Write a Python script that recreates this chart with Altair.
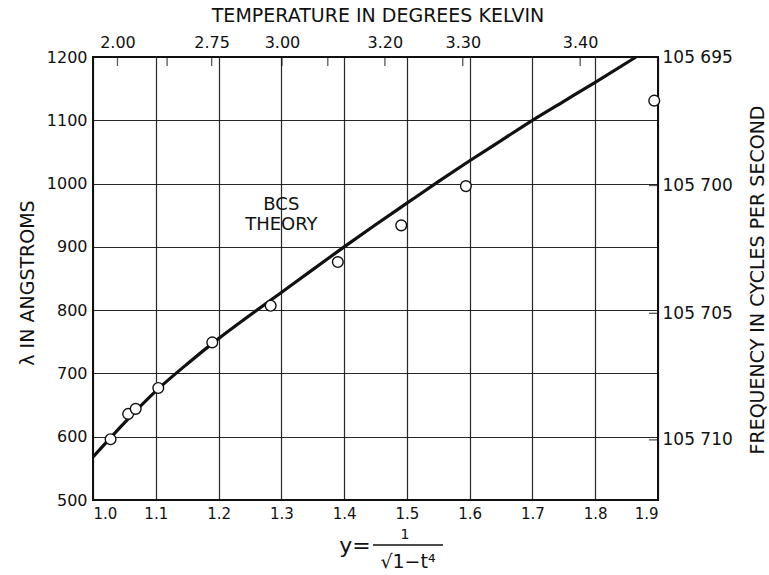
import altair as alt
import pandas as pd

# ---- data ----
curve_x = [1.00, 1.05, 1.10, 1.15, 1.20, 1.25, 1.30, 1.35, 1.40, 1.45, 1.50,
           1.55, 1.60, 1.65, 1.70, 1.75, 1.80, 1.865]
curve_lam = [568, 622, 672, 715, 755, 792, 828, 864, 900, 935, 969,
             1003, 1036, 1068, 1100, 1130, 1160, 1200]

pts_x = [1.028, 1.056, 1.068, 1.104, 1.190, 1.283, 1.390, 1.491, 1.594, 1.894]
pts_lam = [596, 636, 644, 677, 749, 807, 876, 934, 996, 1131]

x_ticks = [1.0, 1.1, 1.2, 1.3, 1.4, 1.5, 1.6, 1.7, 1.8, 1.9]
lam_ticks = [500, 600, 700, 800, 900, 1000, 1100, 1200]

temp_labels = ["2.00", "2.75", "3.00", "3.20", "3.30", "3.40"]
temp_pos = [1.039, 1.189, 1.301, 1.465, 1.589, 1.776]
temp_minor = [1.118, 1.374]

freq_labels = ["105 695", "105 700", "105 705", "105 710"]
freq_pos = [1200, 997, 795, 595]

note_text = ["BCS\nTHEORY"]
note_x = [1.30]
note_lam = [966]

# ---- layout / style ----
FONT = "DejaVu Sans"
INK = "#111111"
W, H = 565, 443
XD = [1.0, 1.9]
YD = [500, 1200]
TITLE_SIZE = 19


def xs():
    return alt.Scale(domain=XD, nice=False, zero=False)


def ys():
    return alt.Scale(domain=YD, nice=False, zero=False)


def map_expr(vals, labels):
    expr = "''"
    for v, l in reversed(list(zip(vals, labels))):
        expr = f"abs(datum.value - {v}) < 1e-6 ? '{l}' : ({expr})"
    return expr


curve_df = pd.DataFrame({"x": curve_x, "lam": curve_lam})
pts_df = pd.DataFrame({"x": pts_x, "lam": pts_lam})
temp_df = pd.DataFrame({"pos": temp_pos + temp_minor})
temp_lab_df = pd.DataFrame({"pos": temp_pos, "label": temp_labels})
freq_df = pd.DataFrame({"lam": freq_pos, "label": freq_labels})
note_df = pd.DataFrame({"x": note_x, "lam": note_lam, "t": note_text})

bottom_axis = alt.Axis(values=x_ticks, format=".1f", grid=True, gridColor=INK,
                       gridWidth=1.2, gridOpacity=0.9, ticks=False, domain=False,
                       labelFont=FONT, labelFontSize=15, labelColor=INK,
                       labelPadding=6, title=None)
left_axis = alt.Axis(values=lam_ticks, format="d", grid=True, gridColor=INK,
                     gridWidth=1.2, gridOpacity=0.9, ticks=False, domain=False,
                     labelFont=FONT, labelFontSize=16, labelColor=INK,
                     labelPadding=6, title="λ IN ANGSTROMS", titleFont=FONT,
                     titleFontSize=TITLE_SIZE, titleFontWeight="normal",
                     titleColor=INK, titleAngle=270, titleX=-66,
                     titleY=H / 2 + 4,
                     titleAlign="center", titleBaseline="middle")

curve = alt.Chart(curve_df).mark_line(color=INK, strokeWidth=3.2,
                                      interpolate="monotone").encode(
    x=alt.X("x:Q", scale=xs(), axis=bottom_axis),
    y=alt.Y("lam:Q", scale=ys(), axis=left_axis),
)

points = alt.Chart(pts_df).mark_point(shape="circle", filled=True, fill="white",
                                      stroke=INK, strokeWidth=1.4, size=115,
                                      opacity=1).encode(
    x=alt.X("x:Q", scale=xs(), axis=None),
    y=alt.Y("lam:Q", scale=ys(), axis=None),
)

top_ticks = alt.Chart(temp_df).mark_tick(orient="vertical", size=9, thickness=1.3,
                                         color=INK, yOffset=4.5).encode(
    x=alt.X("pos:Q", scale=xs(), axis=None),
    y=alt.Y(datum=YD[1], scale=ys(), axis=None),
)

top_axis = alt.Chart(temp_lab_df).mark_point(opacity=0).encode(
    x=alt.X("pos:Q", scale=xs(),
            axis=alt.Axis(orient="top", values=temp_pos,
                          labelExpr=map_expr(temp_pos, temp_labels),
                          ticks=False, domain=False, grid=False,
                          labelFont=FONT, labelFontSize=16, labelColor=INK,
                          labelPadding=7,
                          title="TEMPERATURE IN DEGREES KELVIN",
                          titleFont=FONT, titleFontSize=TITLE_SIZE,
                          titleFontWeight="normal", titleColor=INK,
                          titleX=W / 2 + 2, titleY=-42,
                          titleAlign="center", titleBaseline="middle")),
    y=alt.Y(datum=YD[1], scale=ys(), axis=None),
)

right_ticks = alt.Chart(freq_df).mark_tick(orient="horizontal", size=9,
                                           thickness=1.3, color=INK,
                                           xOffset=-4.5).encode(
    x=alt.X(datum=XD[1], scale=xs(), axis=None),
    y=alt.Y("lam:Q", scale=ys(), axis=None),
)

right_axis = alt.Chart(freq_df).mark_point(opacity=0).encode(
    x=alt.X(datum=XD[1], scale=xs(), axis=None),
    y=alt.Y("lam:Q", scale=ys(),
            axis=alt.Axis(orient="right", values=freq_pos,
                          labelExpr=map_expr(freq_pos, freq_labels),
                          ticks=False, domain=False, grid=False,
                          labelFont=FONT, labelFontSize=17, labelColor=INK,
                          labelPadding=4,
                          title="FREQUENCY IN CYCLES PER SECOND",
                          titleFont=FONT, titleFontSize=TITLE_SIZE,
                          titleFontWeight="normal", titleColor=INK,
                          titleAngle=270, titleX=99, titleY=H / 2 + 1,
                          titleAlign="center", titleBaseline="middle")),
)

note = alt.Chart(note_df).mark_text(lineBreak="\n", font=FONT, fontSize=18,
                                    lineHeight=20, color=INK, align="center",
                                    baseline="middle").encode(
    x=alt.X("x:Q", scale=xs(), axis=None),
    y=alt.Y("lam:Q", scale=ys(), axis=None),
    text="t:N",
)

# ---- x-axis title: y = 1 / sqrt(1 - t^4) ----
f_y = alt.Chart(note_df).mark_text(font=FONT, fontSize=22, color=INK,
                                   align="center", baseline="middle").encode(
    x=alt.value(262), y=alt.value(489), text=alt.value("y="))
f_num = alt.Chart(note_df).mark_text(font=FONT, fontSize=14, color=INK,
                                     align="center", baseline="middle").encode(
    x=alt.value(312), y=alt.value(478), text=alt.value("1"))
f_bar = alt.Chart(note_df).mark_rule(color=INK, strokeWidth=1.4).encode(
    x=alt.value(280), x2=alt.value(350), y=alt.value(488))
f_den = alt.Chart(note_df).mark_text(font=FONT, fontSize=19, color=INK,
                                     align="center", baseline="middle").encode(
    x=alt.value(315), y=alt.value(505), text=alt.value("√1−t⁴"))

chart = alt.layer(
    curve, points, top_ticks, top_axis, right_ticks, right_axis, note,
    f_y, f_num, f_bar, f_den,
).resolve_scale(x="independent", y="independent").properties(
    width=W, height=H,
    autosize=alt.AutoSizeParams(type="none"),
    padding={"left": 93, "top": 57, "right": 111, "bottom": 75},
    background="white",
).configure_view(stroke=INK, strokeWidth=2)

chart.save("out.html", embed_options={"renderer": "svg", "actions": False})
